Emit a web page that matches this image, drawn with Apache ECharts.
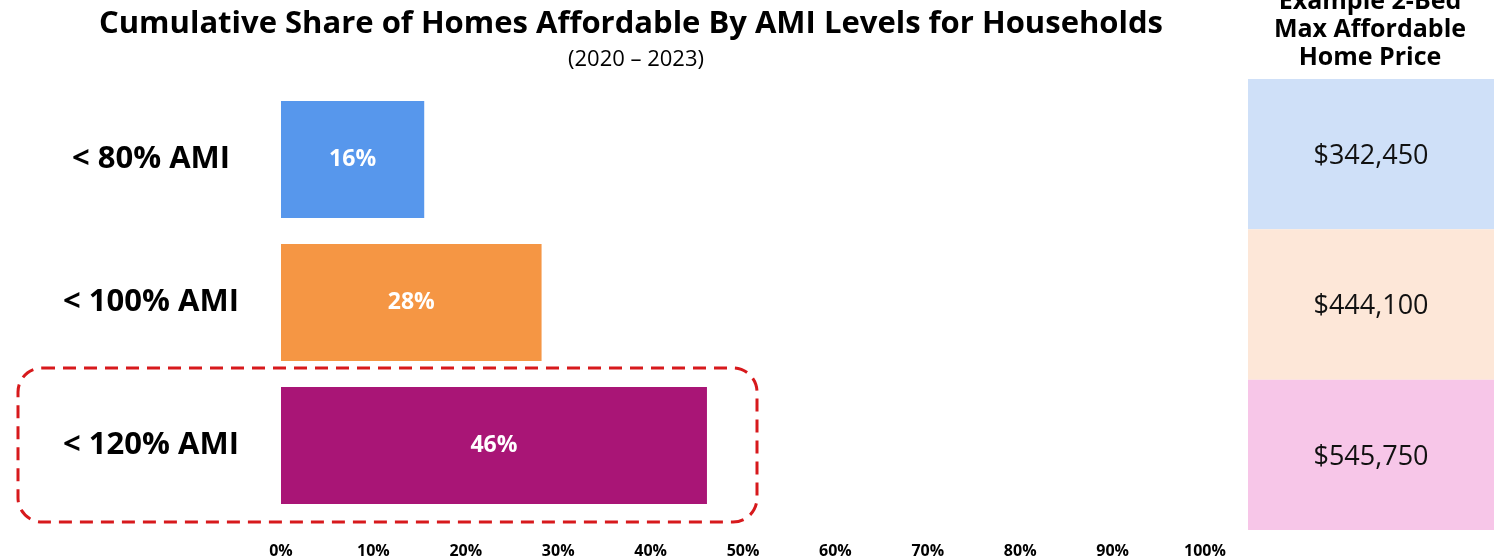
<!DOCTYPE html>
<html><head><meta charset="utf-8">
<script src="https://cdn.jsdelivr.net/npm/echarts@6/dist/echarts.min.js"></script>
<style>html,body{margin:0;padding:0;background:#fff}#c{width:1501px;height:560px}</style>
</head><body><div id="c"></div>
<script>
const categories = ['< 80% AMI', '< 100% AMI', '< 120% AMI'];
const shareValues = [15.5, 28.2, 46.1];
const shareLabels = ['16%', '28%', '46%'];
const barColors = ['#5797ec', '#f59644', '#a91576'];
const priceLabels = ['$342,450', '$444,100', '$545,750'];
const priceColors = ['#cfe0f8', '#fde7d8', '#f7c6e8'];
const xTicks = [0, 10, 20, 30, 40, 50, 60, 70, 80, 90, 100];

const FONT = '"Open Sans", sans-serif';
const chart = echarts.init(document.getElementById('c'));
chart.setOption({
  animation: false,
  title: [
    {text: 'Cumulative Share of Homes Affordable By AMI Levels for Households', left: 626, textAlign: 'center', top: 4,
     textStyle: {fontFamily: FONT, fontSize: 31, fontWeight: 'bold', color: '#000'}},
    {text: '(2020 – 2023)', left: 631, textAlign: 'center', top: 44,
     textStyle: {fontFamily: FONT, fontSize: 22, fontWeight: 'normal', color: '#000'}},
    {text: 'Example 2-Bed\nMax Affordable\nHome Price', left: 1365, textAlign: 'center', top: -17,
     textStyle: {fontFamily: FONT, fontSize: 25, fontWeight: 'bold', color: '#000', lineHeight: 28}}
  ],
  grid: [
    {left: 281, width: 924, top: 88, height: 429},
    {left: 1248, width: 246, top: 79, height: 451}
  ],
  xAxis: [
    {gridIndex: 0, type: 'value', min: 0, max: 100, interval: 10,
     axisLine: {show: false}, axisTick: {show: false}, splitLine: {show: false},
     axisLabel: {formatter: v => v + '%', margin: 26, color: '#000', fontFamily: FONT, fontWeight: 'bold', fontSize: 16}},
    {gridIndex: 1, type: 'value', min: 0, max: 1, show: false}
  ],
  yAxis: [
    {gridIndex: 0, type: 'category', data: categories, inverse: true,
     axisLine: {show: false}, axisTick: {show: false},
     axisLabel: {align: 'center', margin: 130, color: '#000', fontFamily: FONT, fontWeight: 'bold', fontSize: 31}},
    {gridIndex: 1, type: 'category', data: categories, inverse: true, show: false}
  ],
  series: [
    {type: 'bar', xAxisIndex: 0, yAxisIndex: 0, barWidth: 117,
     data: shareValues.map((v, i) => ({value: v, itemStyle: {color: barColors[i]}})),
     label: {show: true, position: 'inside', formatter: p => shareLabels[p.dataIndex],
             color: '#fff', fontFamily: FONT, fontWeight: 'bold', fontSize: 23}},
    {type: 'bar', xAxisIndex: 1, yAxisIndex: 1, barWidth: '100%', barCategoryGap: 0,
     data: priceLabels.map((v, i) => ({value: 1, itemStyle: {color: priceColors[i]}})),
     label: {show: true, position: 'inside', formatter: p => priceLabels[p.dataIndex],
             color: '#111', fontFamily: FONT, fontSize: 27, offset: [0, 2]}}
  ],
  graphic: [
    {type: 'rect', shape: {x: 18, y: 368, width: 739, height: 154, r: 24},
     style: {fill: 'none', stroke: '#d7191c', lineWidth: 3, lineDash: [13, 8]}}
  ]
});
</script></body></html>
